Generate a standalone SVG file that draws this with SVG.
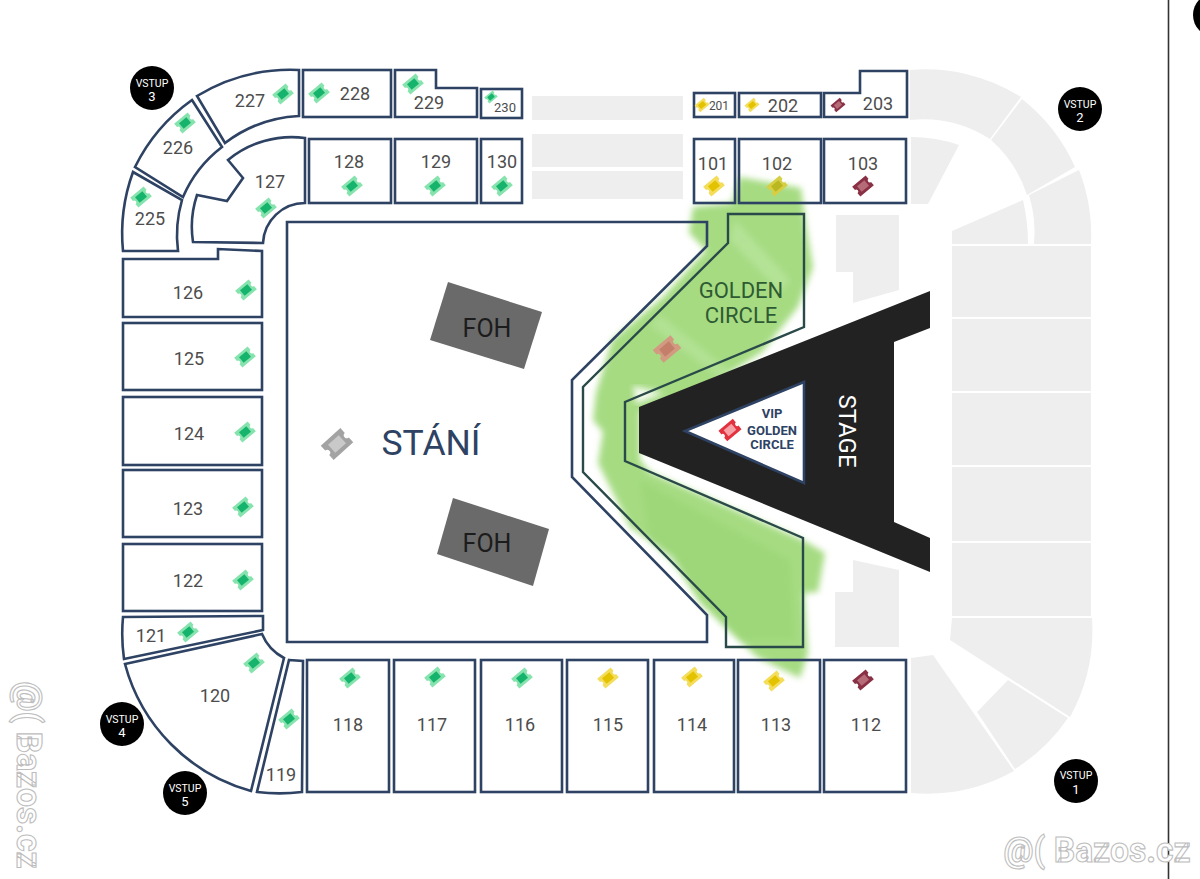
<svg xmlns="http://www.w3.org/2000/svg" width="1200" height="879" viewBox="0 0 1200 879">
<style>
text{font-family:Roboto,"Liberation Sans",sans-serif;text-anchor:middle}
.s{fill:none;stroke:#2e4263;stroke-width:2.6;stroke-linejoin:miter}
.l{font-size:18px;fill:#4d4d4d}
.z{fill:#eeeeee}
.v{fill:#fff;font-size:10.500px}
.n{fill:#fff;font-size:13px}
.foh{font-size:25px;fill:#1c1c1c}
.w{font-size:35px;font-weight:700;fill:#fff;stroke:#bdbdbd;stroke-width:1.1}
.vip{font-size:13px;font-weight:700;fill:#2e4263}
.tg{color:#86e3ae;fill:#16b36c}
.ty{color:#f4dd5a;fill:#e3c200}
.tm{color:#8a3044;fill:#b56b78}
.tr{color:#e3323f;fill:#f7a0a6}
.tq{color:#a3a3a3;fill:#c9c9c9}
.to{color:#d6cf45;fill:#b9b820}
.tp{color:#d39a82;fill:#c47f6a}
</style>
<defs>
<filter id="b" x="-10%" y="-10%" width="120%" height="120%"><feGaussianBlur stdDeviation="3"/></filter>
<g id="t"><path fill="currentColor" d="M-11,-8H11V-2.500A2.500,2.500 0 0 0 11,2.500V8H-11V2.500A2.500,2.500 0 0 0 -11,-2.500Z"/><rect x="-6" y="-4.500" width="12" height="9"/></g>
</defs>
<rect width="1200" height="879" fill="#fff"/>

<g id="grey-sections">
<rect class="z" x="532" y="96" width="151" height="24"/>
<rect class="z" x="532" y="134" width="151" height="33"/>
<rect class="z" x="532" y="171" width="151" height="28"/>
<path class="z" d="M910,70A180,180 0 0 1 1021,97L990,139A125,125 0 0 0 910,120Z"/>
<path class="z" d="M1022,99A180,180 0 0 1 1075,167L1027,195A125,125 0 0 0 991,140Z"/>
<path class="z" d="M1079,170A180,180 0 0 1 1091,244H1034A125,125 0 0 0 1029,195Z"/>
<path class="z" d="M1023,200Q1028,222 1028,244H952V231Z"/>
<path class="z" d="M911,137Q936,137 959,145L928,204H911Z"/>
<rect class="z" x="952" y="246" width="139" height="71"/>
<rect class="z" x="952" y="319" width="139" height="72"/>
<rect class="z" x="952" y="393" width="139" height="72"/>
<rect class="z" x="952" y="467" width="139" height="74"/>
<rect class="z" x="952" y="543" width="139" height="73"/>
<path class="z" d="M952,618H1092A180,180 0 0 1 1070,717L950,640Z"/>
<path class="z" d="M1008,680L1068,718A180,180 0 0 1 1015,769L977,712Z"/>
<path class="z" d="M933,655L1014,771A180,180 0 0 1 911,793V658Z"/>
<path class="z" d="M836,215H899V290L853,303V272H836Z"/>
<path class="z" d="M853,560L899,570V647H835V592H853Z"/>
</g>

<g id="green-marking">
<path fill="#a6db82" filter="url(#b)" d="M739,177L801,188L806,225L813,267L798,307L762,352L700,392L640,412L640,460L650,472L803,540L825,553L818,592L804,593L808,653L800,678L757,657L700,603L673,557L630,527L598,463L603,432L593,420L596,393L612,340L663,297L706,250L689,233L693,207L732,203Z"/>
<path fill="#8fd06a" opacity=".35" filter="url(#b)" d="M640,480L790,560L795,640L740,640L650,540Z"/>
<path fill="#bde8a4" opacity=".6" filter="url(#b)" d="M735,220L790,280L780,292L730,240Z"/>
<path fill="#bde8a4" opacity=".5" filter="url(#b)" d="M660,315L735,375L725,382L650,325Z"/>
<path fill="#fff" filter="url(#b)" opacity=".9" d="M633,386L664,393L636,404Z"/>
</g>

<g id="stage"><path fill="#222" d="M930,291V328L894,342V522L930,538V572L639,453V407Z"/>
<text x="0" y="0" transform="translate(839,431) rotate(90)" font-size="24" fill="#fff">STAGE</text></g>

<g id="standing"><path class="s" d="M287,222H707V246L572,380V477L707,615V642H287Z"/>
<use href="#t" class="tq" transform="translate(337,444) rotate(-42) scale(1.200)"/>
<text x="431" y="455" font-size="35.500" fill="#2e4263">STÁNÍ</text></g>
<g id="foh-1"><path fill="#6a6a6a" d="M448,282L542,312L524,369L430,340Z"/><text class="foh" x="487" y="337">FOH</text></g>
<g id="foh-2"><path fill="#6a6a6a" d="M453,498L549,529L533,586L437,554Z"/><text class="foh" x="487" y="552">FOH</text></g>

<g id="golden-circle"><path fill="none" stroke="#2a4a4a" stroke-width="2.400" d="M728,214H804V327L625,402V461L803,538V647H726V617L583,472V387L728,243Z"/>
<use href="#t" class="tp" transform="translate(667,349) rotate(-40) scale(1.050)"/>
<text x="741" y="298" font-size="22" fill="#2f5a33">GOLDEN</text><text x="741" y="323" font-size="22" fill="#2f5a33">CIRCLE</text></g>
<g id="vip-golden-circle"><path fill="#fff" stroke="#2e4263" stroke-width="2.600" d="M804,382V483L685,431Z"/>
<use href="#t" class="tr" transform="translate(730,430) rotate(-40) scale(.850)"/>
<text class="vip" x="772" y="418">VIP</text><text class="vip" x="772" y="435">GOLDEN</text><text class="vip" x="772" y="449">CIRCLE</text></g>

<g id="s227"><path class="s" d="M197,96A180,180 0 0 1 299,70V116A133,133 0 0 0 225,143Z"/><text class="l" x="250" y="107">227</text><use href="#t" class="tg" transform="translate(283,94) rotate(-40) scale(.8)"/></g>
<g id="s228"><rect class="s" x="303" y="70" width="88" height="47"/><text class="l" x="355" y="100">228</text><use href="#t" class="tg" transform="translate(319,93) rotate(-40) scale(.8)"/></g>
<g id="s229"><path class="s" d="M395,70H436V88H477V117H395Z"/><text class="l" x="429" y="109">229</text><use href="#t" class="tg" transform="translate(413,84) rotate(-40) scale(.8)"/></g>
<g id="s230"><rect class="s" x="481" y="89" width="41" height="29"/><text class="l" x="505" y="112" style="font-size:13px">230</text><use href="#t" class="tg" transform="translate(491,97) rotate(-40) scale(.5)"/></g>
<g id="s226"><path class="s" d="M192,100L222,147A125,125 0 0 0 183,197L135,167A180,180 0 0 1 192,100Z"/><text class="l" x="178" y="154">226</text><use href="#t" class="tg" transform="translate(185,123) rotate(-40) scale(.8)"/></g>
<g id="s225"><path class="s" d="M133,172L182,200A125,125 0 0 0 178,251H123A180,180 0 0 1 133,172Z"/><text class="l" x="150" y="225">225</text><use href="#t" class="tg" transform="translate(141,197) rotate(-40) scale(.8)"/></g>
<g id="s127"><path class="s" d="M305,138V203A42,42 0 0 0 263,243L193,242A100,100 0 0 1 197,195L227,201L243,178L228,160A100,100 0 0 1 305,138Z"/><text class="l" x="270" y="188">127</text><use href="#t" class="tg" transform="translate(266,208) rotate(-40) scale(.8)"/></g>
<g id="s128"><rect class="s" x="309" y="139" width="82" height="64"/><text class="l" x="349" y="168">128</text><use href="#t" class="tg" transform="translate(352,186) rotate(-40) scale(.8)"/></g>
<g id="s129"><rect class="s" x="395" y="139" width="82" height="64"/><text class="l" x="436" y="168">129</text><use href="#t" class="tg" transform="translate(435,186) rotate(-40) scale(.8)"/></g>
<g id="s130"><rect class="s" x="481" y="139" width="41" height="64"/><text class="l" x="502" y="168">130</text><use href="#t" class="tg" transform="translate(502,186) rotate(-40) scale(.8)"/></g>
<g id="s126"><path class="s" d="M123,259H218V249L262,251V317H123Z"/><text class="l" x="188" y="299">126</text><use href="#t" class="tg" transform="translate(246,290) rotate(-40) scale(.8)"/></g>
<g id="s125"><rect class="s" x="123" y="323" width="139" height="67"/><text class="l" x="189" y="365">125</text><use href="#t" class="tg" transform="translate(245,357) rotate(-40) scale(.8)"/></g>
<g id="s124"><rect class="s" x="123" y="397" width="139" height="68"/><text class="l" x="189" y="440">124</text><use href="#t" class="tg" transform="translate(245,432) rotate(-40) scale(.8)"/></g>
<g id="s123"><rect class="s" x="123" y="470" width="139" height="67"/><text class="l" x="188" y="515">123</text><use href="#t" class="tg" transform="translate(243,507) rotate(-40) scale(.8)"/></g>
<g id="s122"><rect class="s" x="123" y="544" width="139" height="67"/><text class="l" x="188" y="587">122</text><use href="#t" class="tg" transform="translate(243,580) rotate(-40) scale(.8)"/></g>
<g id="s121"><path class="s" d="M123,617L263,616V630L124,659A180,180 0 0 1 123,617Z"/><text class="l" x="151" y="642">121</text><use href="#t" class="tg" transform="translate(188,632) rotate(-40) scale(.8)"/></g>
<g id="s120"><path class="s" d="M125,664L262,634A48,48 0 0 0 284,658L251,791A180,180 0 0 1 125,664Z"/><text class="l" x="215" y="702">120</text><use href="#t" class="tg" transform="translate(254,663) rotate(-40) scale(.8)"/></g>
<g id="s119"><path class="s" d="M289,660L303,661L302,792A180,180 0 0 1 257,792Z"/><text class="l" x="281" y="781">119</text><use href="#t" class="tg" transform="translate(289,719) rotate(-40) scale(.8)"/></g>
<g id="s118"><rect class="s" x="307" y="660" width="82" height="132"/><text class="l" x="348" y="731">118</text><use href="#t" class="tg" transform="translate(350,678) rotate(-40) scale(.8)"/></g>
<g id="s117"><rect class="s" x="394" y="660" width="81" height="132"/><text class="l" x="432" y="731">117</text><use href="#t" class="tg" transform="translate(435,677) rotate(-40) scale(.8)"/></g>
<g id="s116"><rect class="s" x="481" y="660" width="81" height="132"/><text class="l" x="520" y="731">116</text><use href="#t" class="tg" transform="translate(522,678) rotate(-40) scale(.8)"/></g>
<g id="s115"><rect class="s" x="567" y="660" width="81" height="132"/><text class="l" x="608" y="731">115</text><use href="#t" class="ty" transform="translate(608,678) rotate(-40) scale(.8)"/></g>
<g id="s114"><rect class="s" x="654" y="660" width="80" height="132"/><text class="l" x="692" y="731">114</text><use href="#t" class="ty" transform="translate(692,677) rotate(-40) scale(.8)"/></g>
<g id="s113"><rect class="s" x="738" y="660" width="82" height="132"/><text class="l" x="776" y="731">113</text><use href="#t" class="ty" transform="translate(774,681) rotate(-40) scale(.8)"/></g>
<g id="s112"><rect class="s" x="824" y="660" width="82" height="132"/><text class="l" x="866" y="731">112</text><use href="#t" class="tm" transform="translate(863,680) rotate(-40) scale(.8)"/></g>
<g id="s201"><rect class="s" x="694" y="93" width="41" height="24"/><text class="l" x="719" y="110" style="font-size:12px">201</text><use href="#t" class="ty" transform="translate(702,105) rotate(-40) scale(.55)"/></g>
<g id="s202"><rect class="s" x="739" y="93" width="82" height="24"/><text class="l" x="783" y="112">202</text><use href="#t" class="ty" transform="translate(752,105) rotate(-40) scale(.55)"/></g>
<g id="s203"><path class="s" d="M824,93H860V71H907V117H824Z"/><text class="l" x="878" y="110">203</text><use href="#t" class="tm" transform="translate(838,105) rotate(-40) scale(.55)"/></g>
<g id="s101"><rect class="s" x="694" y="139" width="41" height="64"/><text class="l" x="713" y="170">101</text><use href="#t" class="ty" transform="translate(714,186) rotate(-40) scale(.8)"/></g>
<g id="s102"><rect class="s" x="739" y="139" width="82" height="64"/><text class="l" x="777" y="170">102</text><use href="#t" class="to" transform="translate(777,186) rotate(-40) scale(.8)"/></g>
<g id="s103"><rect class="s" x="824" y="139" width="82" height="64"/><text class="l" x="863" y="170">103</text><use href="#t" class="tm" transform="translate(863,186) rotate(-40) scale(.8)"/></g>

<g id="vstup-1"><circle cx="1076" cy="781" r="22"/><text class="v" x="1076" y="779">VSTUP</text><text class="n" x="1076" y="794">1</text></g>
<g id="vstup-2"><circle cx="1080" cy="109" r="22"/><text class="v" x="1080" y="108">VSTUP</text><text class="n" x="1080" y="122">2</text></g>
<g id="vstup-3"><circle cx="152" cy="88" r="22"/><text class="v" x="152" y="87">VSTUP</text><text class="n" x="152" y="101">3</text></g>
<g id="vstup-4"><circle cx="122" cy="724" r="22"/><text class="v" x="122" y="723">VSTUP</text><text class="n" x="122" y="737">4</text></g>
<g id="vstup-5"><circle cx="185" cy="793" r="22"/><text class="v" x="185" y="792">VSTUP</text><text class="n" x="185" y="806">5</text></g>

<path d="M1168.500,0V879" stroke="#333" stroke-width="1.600"/>
<circle cx="1215" cy="15" r="22"/>
<text class="w" x="1097" y="862" textLength="187" lengthAdjust="spacingAndGlyphs">@( Bazos.cz</text>
<text class="w" transform="translate(17,775) rotate(90)" textLength="187" lengthAdjust="spacingAndGlyphs">@( Bazos.cz</text>
</svg>
